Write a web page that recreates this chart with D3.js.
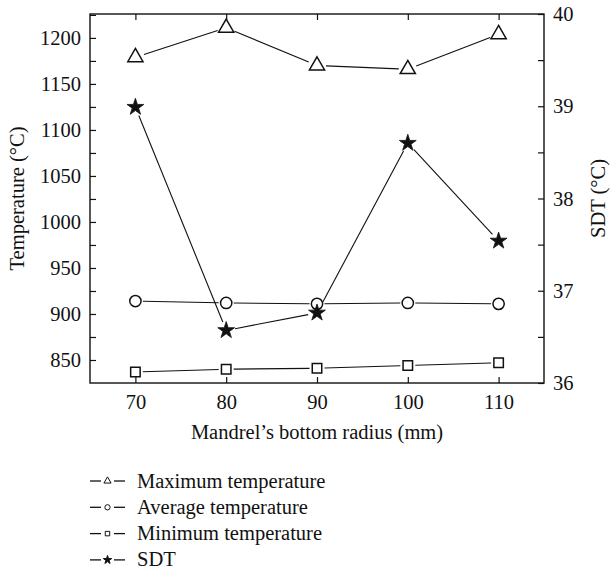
<!DOCTYPE html>
<html>
<head>
<meta charset="utf-8">
<script src="https://cdn.jsdelivr.net/npm/d3@7"></script>
<style>
  html, body { margin: 0; padding: 0; background: #fff; }
</style>
</head>
<body>
<svg id="chart" width="610" height="573"></svg>
<script>
// Mandrel bottom radius (mm)
const radius = [70, 80, 90, 100, 110];
// Temperatures (°C), left axis
const maxTemp = [1179, 1211, 1170, 1166, 1204];
const avgTemp = [914, 912, 911, 912, 911];
const minTemp = [837, 840, 841, 844, 847];
// SDT (°C), right axis
const sdt = [38.99, 36.57, 36.76, 38.60, 37.54];

const xTicks = [70, 80, 90, 100, 110];
const yLeftTicks = [850, 900, 950, 1000, 1050, 1100, 1150, 1200];
const yRightTicks = [36, 37, 38, 39, 40];

const legendLabels = ["Maximum temperature", "Average temperature", "Minimum temperature", "SDT"];

const FONT = '"Liberation Serif"';
const FS = 20.5;
const INK = "#111";

const svg = d3.select("#chart");
const m = { left: 90, right: 544, top: 14, bottom: 383 };

const x = d3.scaleLinear().domain([65, 115]).range([m.left, m.right]);
const yL = d3.scaleLinear().domain([825, 1226]).range([m.bottom, m.top]);
const yR = d3.scaleLinear().domain([36, 40]).range([m.bottom, m.top]);

function label(sel, size) {
  return sel.style("font-family", FONT).style("font-size", size + "px").attr("fill", INK);
}

// frame
svg.append("rect")
  .attr("x", m.left).attr("y", m.top)
  .attr("width", m.right - m.left).attr("height", m.bottom - m.top)
  .attr("fill", "none").attr("stroke", INK).attr("stroke-width", 1.4);

// axes, ticks pointing into the plot
function styleAxis(g) {
  g.attr("font-family", null);
  g.select(".domain").remove();
  g.selectAll("line").attr("stroke", INK).attr("stroke-width", 1.2);
  label(g.selectAll("text"), FS);
}

svg.append("g").attr("transform", `translate(0,${m.bottom})`)
  .call(d3.axisBottom(x).tickValues(xTicks).tickSize(-6).tickPadding(11).tickFormat(d3.format("d")))
  .call(styleAxis);
svg.append("g").attr("transform", `translate(0,${m.top})`)
  .call(d3.axisTop(x).tickValues(xTicks).tickSize(-6).tickFormat(""))
  .call(styleAxis);

svg.append("g").attr("transform", `translate(${m.left},0)`)
  .call(d3.axisLeft(yL).tickValues(yLeftTicks).tickSize(-6).tickPadding(9).tickFormat(d3.format("d")))
  .call(styleAxis);
svg.append("g").attr("transform", `translate(${m.left},0)`)
  .call(d3.axisLeft(yL).tickValues(yLeftTicks.map(v => v + 25)).tickSize(-6).tickFormat(""))
  .call(styleAxis);

svg.append("g").attr("transform", `translate(${m.right},0)`)
  .call(d3.axisRight(yR).tickValues(yRightTicks).tickSize(-6).tickPadding(9).tickFormat(d3.format("d")))
  .call(styleAxis);
svg.append("g").attr("transform", `translate(${m.right},0)`)
  .call(d3.axisRight(yR).tickValues(yRightTicks.slice(0, -1).map(v => v + 0.5)).tickSize(-6).tickFormat(""))
  .call(styleAxis);

// axis titles
label(svg.append("text"), FS)
  .attr("transform", `translate(24,${(m.top + m.bottom) / 2}) rotate(-90)`)
  .attr("text-anchor", "middle")
  .text("Temperature (°C)");
label(svg.append("text"), FS)
  .attr("transform", `translate(605,${(m.top + m.bottom) / 2}) rotate(-90)`)
  .attr("text-anchor", "middle")
  .text("SDT (°C)");
label(svg.append("text"), FS)
  .attr("x", (m.left + m.right) / 2).attr("y", 439)
  .attr("text-anchor", "middle")
  .text("Mandrel’s bottom radius (mm)");

// marker shapes
const shapes = {
  tri: d3.symbol().type(d3.symbolTriangle).size(100),
  circ: d3.symbol().type(d3.symbolCircle).size(100),
  sq: d3.symbol().type(d3.symbolSquare).size(90),
  star: d3.symbol().type(d3.symbolStar).size(88)
};

const series = [
  { values: maxTemp, y: yL, shape: "tri", fill: "#fff", gap: 9 },
  { values: avgTemp, y: yL, shape: "circ", fill: "#fff", gap: 7.5 },
  { values: minTemp, y: yL, shape: "sq", fill: "#fff", gap: 7.5 },
  { values: sdt, y: yR, shape: "star", fill: INK, gap: 9 }
];

// connecting lines, stopping short of each marker
series.forEach(s => {
  const pts = radius.map((r, i) => [x(r), s.y(s.values[i])]);
  for (let i = 0; i < pts.length - 1; i++) {
    const [x1, y1] = pts[i], [x2, y2] = pts[i + 1];
    const len = Math.hypot(x2 - x1, y2 - y1);
    const ux = (x2 - x1) / len, uy = (y2 - y1) / len;
    svg.append("line")
      .attr("x1", x1 + ux * s.gap).attr("y1", y1 + uy * s.gap)
      .attr("x2", x2 - ux * s.gap).attr("y2", y2 - uy * s.gap)
      .attr("stroke", INK).attr("stroke-width", 1.1);
  }
});

// markers
series.forEach(s => {
  svg.append("g").selectAll("path").data(s.values).join("path")
    .attr("transform", (d, i) => `translate(${x(radius[i])},${s.y(d)})`)
    .attr("d", shapes[s.shape])
    .attr("fill", s.fill).attr("stroke", INK).attr("stroke-width", s.shape === "star" ? 0.8 : 1.5);
});

// legend
const legendShapes = {
  tri: d3.symbol().type(d3.symbolTriangle).size(22),
  circ: d3.symbol().type(d3.symbolCircle).size(22),
  sq: d3.symbol().type(d3.symbolSquare).size(20),
  star: d3.symbol().type(d3.symbolStar).size(22)
};
const lg = svg.append("g");
series.forEach((s, i) => {
  const cy = 481 + i * 26.3;
  const row = lg.append("g").attr("transform", `translate(0,${cy})`);
  row.append("line").attr("x1", 90).attr("x2", 101).attr("y1", 0).attr("y2", 0).attr("stroke", INK).attr("stroke-width", 1.3);
  row.append("line").attr("x1", 114).attr("x2", 125).attr("y1", 0).attr("y2", 0).attr("stroke", INK).attr("stroke-width", 1.3);
  row.append("path").attr("transform", "translate(107.5,0)").attr("d", legendShapes[s.shape])
    .attr("fill", s.fill).attr("stroke", INK).attr("stroke-width", 1);
  label(row.append("text"), FS)
    .attr("x", 137).attr("y", 0).attr("dy", "0.32em")
    .text(legendLabels[i]);
});
</script>
</body>
</html>
